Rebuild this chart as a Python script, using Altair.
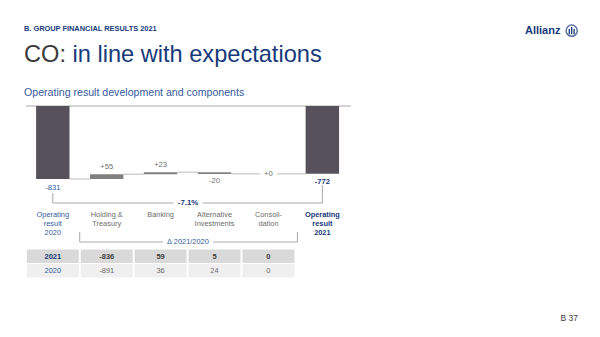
import altair as alt
import pandas as pd

# ---- figures (EUR mn) ----
categories = ["Operating result 2020", "Holding & Treasury", "Banking",
              "Alternative Investments", "Consolidation", "Operating result 2021"]
axis_labels = ["Operating\nresult\n2020", "Holding &\nTreasury", "Banking",
               "Alternative\nInvestments", "Consoli-\ndation", "Operating\nresult\n2021"]
kinds = ["total", "delta", "delta", "delta", "delta", "total"]
amounts = [-831, 55, 23, -20, 0, -772]

table_years = ["2021", "2020"]
segment_2021 = [-836, 59, 5, 0]
segment_2020 = [-891, 36, 24, 0]

header = "B. GROUP FINANCIAL RESULTS 2021"
title_lead = "CO:"
title_rest = "in line with expectations"
subtitle = "Operating result development and components"
delta_caption = "\u2206 2021/2020"
page_no = "B 37"
brand = "Allianz"

# ---- colours ----
BLUE_DARK = "#173a7a"
BLUE_MID = "#355a9c"
TEXT_GRAY = "#6c6c6c"
TEXT_DARK = "#3c3c3c"
BAR_TOTAL = "#57515c"
BAR_DELTA = "#808080"
LINE_GRAY = "#a9a9a9"
FONT = "Liberation Sans"

# ---- waterfall geometry from the figures ----
rows = []
running = 0
for cat, lab, kind, amt in zip(categories, axis_labels, kinds, amounts):
    if kind == "total":
        start, end = 0, amt
        text = f"{amt}"
    else:
        start, end = running, running + amt
        text = f"{amt:+d}"
    running = end
    lo, hi = min(start, end), max(start, end)
    if kind == "total" or amt < 0:
        side, anchor = "below", lo
    elif amt > 0:
        side, anchor = "above", hi
    else:
        side, anchor = "flat", end
    rows.append(dict(cat=cat, label=lab, kind=kind, amount=amt, lo=lo, hi=hi,
                     level=end, text=text, side=side, anchor=anchor))
wf = pd.DataFrame(rows)

# connector lines between consecutive drawn bars
drawn = [i for i, r in enumerate(rows) if r["hi"] != r["lo"]]
links = pd.DataFrame([dict(src=categories[a], dst=categories[b], level=rows[a]["level"])
                      for a, b in zip(drawn, drawn[1:])])

pct_text = f"{(amounts[-1] / amounts[0] - 1) * 100:.1f}%"

# segment table
cells = []
for yr, vals in zip(table_years, [segment_2021, segment_2020]):
    cells.append(dict(year=yr, col=categories[0], text=yr, head=True))
    for c, v in zip(categories[1:5], vals):
        cells.append(dict(year=yr, col=c, text=str(v), head=False))
table = pd.DataFrame(cells)

one = pd.DataFrame({"k": [0]})

# ---- scales ----
xscale = alt.Scale(domain=categories, range=[25.85, 349.3], paddingInner=0.38, paddingOuter=0.19)
yscale = alt.Scale(domain=[-831, 0], range=[179, 106], nice=False, zero=False)
rowscale = alt.Scale(domain=table_years, range=[249.5, 277.5], paddingInner=0.07, paddingOuter=0)


def X(f):
    return alt.X(f"{f}:N", scale=xscale, axis=None)


def Y(f):
    return alt.Y(f"{f}:Q", scale=yscale, axis=None)


def label(text, x, y, size, color, weight="normal", align="left", baseline="alphabetic"):
    return alt.Chart(one).mark_text(text=text, fontSize=size, color=color, fontWeight=weight,
                                    align=align, baseline=baseline).encode(
        x=alt.value(x), y=alt.value(y))


layers = []

# page texts
layers += [
    label(header, 24, 30.5, 7.4, BLUE_DARK, "bold"),
    label(title_lead, 24, 62, 23.6, TEXT_DARK),
    label(title_rest, 72.5, 62, 23.6, BLUE_DARK),
    label(subtitle, 24, 96, 10.6, BLUE_MID),
    label(brand, 525, 34, 11, BLUE_DARK, "bold"),
    label(page_no, 578, 321, 8.5, TEXT_DARK, align="right"),
]

# brand mark
layers.append(alt.Chart(one).mark_point(shape="circle", filled=False, size=125, strokeWidth=1.5,
                                        color=BLUE_DARK).encode(x=alt.value(571.7), y=alt.value(30.7)))
for px, top in [(569.3, 29.0), (571.7, 27.0), (574.1, 29.0)]:
    layers.append(alt.Chart(one).mark_rule(color=BLUE_DARK, strokeWidth=1.3).encode(
        x=alt.value(px), y=alt.value(top), y2=alt.value(34.2)))

# zero line
layers.append(alt.Chart(one).mark_rule(color=LINE_GRAY, strokeWidth=1).encode(
    x=alt.value(26), x2=alt.value(351), y=alt.Y(datum=0, scale=yscale, axis=None)))

# connectors
layers.append(alt.Chart(links).mark_rule(color="#b8b8b8", strokeWidth=1, xOffset=16.7, x2Offset=-16.7).encode(
    x=X("src"), x2=alt.X2("dst:N"), y=Y("level")))

# bars
layers.append(alt.Chart(wf).mark_bar().encode(
    x=X("cat"), y=Y("lo"), y2=alt.Y2("hi:Q"),
    color=alt.condition(alt.datum.kind == "total", alt.value(BAR_TOTAL), alt.value(BAR_DELTA))))

# bracket for the year-on-year change
layers += [
    alt.Chart(one).mark_rule(color=LINE_GRAY).encode(
        x=alt.X(datum=categories[0], scale=xscale, axis=None), x2=alt.X2(datum=categories[-1]),
        y=alt.value(203)),
    alt.Chart(one).mark_rule(color=LINE_GRAY).encode(
        x=alt.X(datum=categories[0], scale=xscale, axis=None), y=alt.value(193), y2=alt.value(203)),
    alt.Chart(one).mark_rule(color=LINE_GRAY).encode(
        x=alt.X(datum=categories[-1], scale=xscale, axis=None), y=alt.value(185), y2=alt.value(203)),
]

# bracket over the segments
layers += [
    alt.Chart(one).mark_rule(color=LINE_GRAY, xOffset=-27, x2Offset=29).encode(
        x=alt.X(datum=categories[1], scale=xscale, axis=None), x2=alt.X2(datum=categories[4]),
        y=alt.value(242)),
    alt.Chart(one).mark_rule(color=LINE_GRAY, xOffset=-27).encode(
        x=alt.X(datum=categories[1], scale=xscale, axis=None), y=alt.value(232), y2=alt.value(242)),
    alt.Chart(one).mark_rule(color=LINE_GRAY, xOffset=29).encode(
        x=alt.X(datum=categories[4], scale=xscale, axis=None), y=alt.value(232), y2=alt.value(242)),
]

# white halos that open gaps in the lines behind labels
halo = dict(stroke="white", strokeWidth=9, fill="white", baseline="middle")
layers += [
    alt.Chart(one).mark_text(text=pct_text, fontSize=7.8, fontWeight="bold", **halo).encode(
        x=alt.value(188), y=alt.value(203)),
    alt.Chart(one).mark_text(text=delta_caption, fontSize=7.4, **halo).encode(
        x=alt.value(188), y=alt.value(242)),
    alt.Chart(wf).transform_filter(alt.datum.side == "flat").mark_text(
        fontSize=7.6, **halo).encode(x=X("cat"), y=Y("anchor"), text="text:N"),
]

# table cells
layers.append(alt.Chart(table).mark_bar(width=52).encode(
    x=X("col"), y=alt.Y("year:N", scale=rowscale, axis=None),
    color=alt.condition(alt.datum.year == table_years[0], alt.value("#d9d9d9"), alt.value("#efefef"))))


def table_text(cond, color, weight):
    return alt.Chart(table).transform_filter(cond).mark_text(
        fontSize=7.5, color=color, fontWeight=weight, baseline="middle").encode(
        x=X("col"), y=alt.Y("year:N", scale=rowscale, axis=None), text="text:N")


layers += [
    table_text((alt.datum.year == table_years[0]) & alt.datum.head, BLUE_DARK, "bold"),
    table_text((alt.datum.year == table_years[1]) & alt.datum.head, BLUE_MID, "normal"),
    table_text((alt.datum.year == table_years[0]) & ~alt.datum.head, TEXT_DARK, "bold"),
    table_text((alt.datum.year == table_years[1]) & ~alt.datum.head, TEXT_GRAY, "normal"),
]

# bar value labels
def bar_text(cond, dy, color, weight="normal"):
    return alt.Chart(wf).transform_filter(cond).mark_text(
        fontSize=7.6, color=color, fontWeight=weight, baseline="middle", dy=dy).encode(
        x=X("cat"), y=Y("anchor"), text="text:N")


layers += [
    bar_text((alt.datum.kind == "delta") & (alt.datum.side == "above"), -7.5, TEXT_GRAY),
    bar_text((alt.datum.kind == "delta") & (alt.datum.side == "below"), 7.5, TEXT_GRAY),
    bar_text(alt.datum.side == "flat", 0, TEXT_GRAY),
    bar_text(alt.datum.cat == categories[0], 9, BLUE_MID),
    bar_text(alt.datum.cat == categories[-1], 8, BLUE_DARK, "bold"),
]

# bracket captions
layers += [
    alt.Chart(one).mark_text(text=pct_text, fontSize=7.8, fontWeight="bold", color=BLUE_DARK,
                             baseline="middle").encode(x=alt.value(188), y=alt.value(203)),
    alt.Chart(one).mark_text(text=delta_caption, fontSize=7.4, color=BLUE_MID,
                             baseline="middle").encode(x=alt.value(188), y=alt.value(242)),
]

# category labels
def cat_text(cond, color, weight="normal"):
    return alt.Chart(wf).transform_filter(cond).mark_text(
        fontSize=7.4, color=color, fontWeight=weight, lineBreak="\n", lineHeight=9,
        baseline="alphabetic").encode(x=X("cat"), y=alt.value(217), text="label:N")


layers += [
    cat_text(alt.datum.kind == "delta", TEXT_GRAY),
    cat_text(alt.datum.cat == categories[0], BLUE_MID),
    cat_text(alt.datum.cat == categories[-1], BLUE_DARK, "bold"),
]

chart = alt.layer(*layers).resolve_scale(y="independent", color="independent").properties(
    width=600, height=337, padding=0, autosize=alt.AutoSizeParams(type="none"),
    background="white",
).configure(font=FONT).configure_view(stroke=None)

chart.save("out.html", embed_options={"renderer": "svg", "actions": False})
